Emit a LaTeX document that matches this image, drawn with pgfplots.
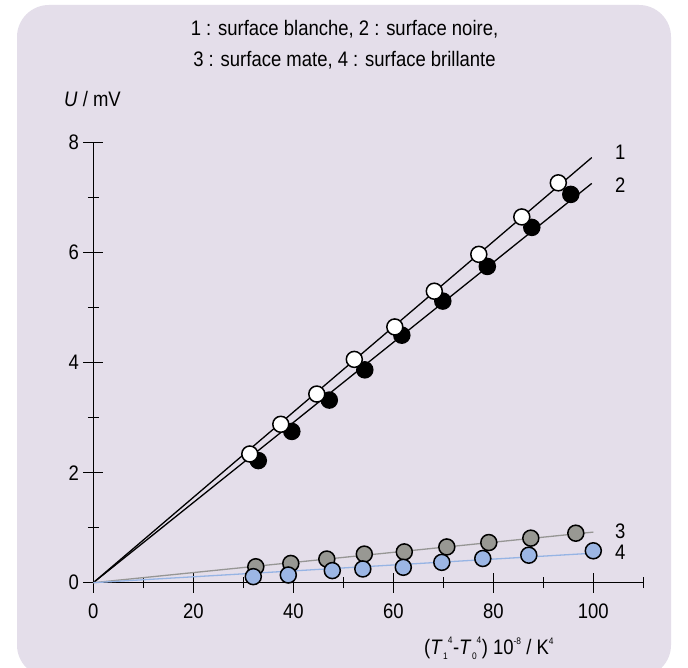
\documentclass[border=0pt]{standalone}
\usepackage{pgfplots}
\pgfplotsset{compat=1.18}
\usepackage{fontspec}
\setmainfont[FakeStretch=0.88]{Liberation Sans}
\definecolor{lav}{RGB}{228,222,234}
\definecolor{grayfill}{RGB}{152,152,147}
\definecolor{bluefill}{RGB}{156,182,228}
\definecolor{grayline}{RGB}{150,150,148}
\definecolor{blueline}{RGB}{150,180,228}
\newcommand{\bigf}{\fontsize{21bp}{25bp}\selectfont}
\newcommand{\smf}{\fontsize{9.5bp}{9.5bp}\selectfont}
\newcommand{\sps}[1]{\raisebox{10bp}{\smf #1}}
\newcommand{\supsub}[2]{\hspace{0.5bp}\raisebox{-5bp}{\smf #2}\raisebox{11bp}{\smf #1}\hspace{0.5bp}}
\begin{document}
\begin{tikzpicture}[font=\bigf]
\path[use as bounding box] (0,0) rectangle (688bp,668bp);
\fill[white] (0,0) rectangle (688bp,668bp);
\begin{scope}
\clip (0,0) rectangle (688bp,668bp);
\fill[lav, rounded corners=32bp] (17bp,-9bp) rectangle (671bp,663bp);
\end{scope}
\node[anchor=base] at (344.5bp,632.5bp) {1 : surface blanche, 2 : surface noire,};
\node[anchor=base] at (344.5bp,601.5bp) {3 : surface mate, 4 : surface brillante};
\node[anchor=base west, inner sep=0pt] at (64bp,561bp) {\textit{U} / mV};
\node[anchor=base west, inner sep=0pt] at (424bp,14bp) {(\textit{T}\supsub{4}{1}-\textit{T}\supsub{4}{0}) 10\sps{-8} / K\sps{4}};
\begin{axis}[
  at={(93.3bp,85.3bp)}, anchor=south west,
  x=5bp, y=55bp,
  xmin=0, xmax=110, ymin=0, ymax=8,
  axis lines=left,
  axis line style={-, line width=1.6bp},
  clip=false,
  xtick={0,20,...,100}, minor xtick={10,30,...,110},
  ytick={0,2,...,8}, minor ytick={1,3,5,7},
  tick align=center,
  major tick length=20bp, minor tick length=11bp,
  every tick/.style={black, line width=1.6bp},
  /pgf/number format/assume math mode=true,
  tick label style={font=\bigf},
  xticklabel style={anchor=north, yshift=-8bp},
  yticklabel style={anchor=east, xshift=-1bp},
]
\addplot[black, line width=1.3bp] coordinates {(0,0) (99.7,7.73)};
\addplot[black, line width=1.3bp] coordinates {(0,0) (99.7,7.26)};
\addplot[grayline, line width=1.3bp] coordinates {(0,0) (100,0.92)};
\addplot[blueline, line width=1.3bp] coordinates {(0,0) (99.7,0.535)};
% series 2 (black)
\addplot[only marks, mark=*, mark size=8bp, mark options={fill=black, draw=black, line width=1.5bp}] coordinates {
(33.0,2.22) (39.7,2.75) (47.2,3.32) (54.3,3.87) (61.7,4.50) (69.9,5.12) (78.8,5.75) (87.7,6.46) (95.5,7.06)};
% series 1 (white)
\addplot[only marks, mark=*, mark size=8bp, mark options={fill=white, draw=black, line width=1.5bp}] coordinates {
(31.3,2.34) (37.5,2.88) (44.7,3.43) (52.2,4.06) (60.3,4.65) (68.2,5.30) (77.1,5.97) (85.7,6.65) (93.0,7.27)};
% series 3 (gray)
\addplot[only marks, mark=*, mark size=8bp, mark options={fill=grayfill, draw=black, line width=1.5bp}] coordinates {
(32.5,0.29) (39.5,0.35) (46.7,0.43) (54.2,0.52) (62.2,0.56) (70.7,0.65) (79.1,0.73) (87.5,0.81) (96.5,0.90)};
% series 4 (blue)
\addplot[only marks, mark=*, mark size=8bp, mark options={fill=bluefill, draw=black, line width=1.5bp}] coordinates {
(32.0,0.11) (39.0,0.14) (47.8,0.22) (53.9,0.25) (62.0,0.28) (69.7,0.37) (77.9,0.44) (87.1,0.50) (100,0.58)};
\node[anchor=west, inner sep=0pt] at (axis cs:104.3,7.83) {1};
\node[anchor=west, inner sep=0pt] at (axis cs:104.3,7.23) {2};
\node[anchor=west, inner sep=0pt] at (axis cs:104.3,0.94) {3};
\node[anchor=west, inner sep=0pt] at (axis cs:104.3,0.55) {4};
\end{axis}
\end{tikzpicture}
\end{document}
